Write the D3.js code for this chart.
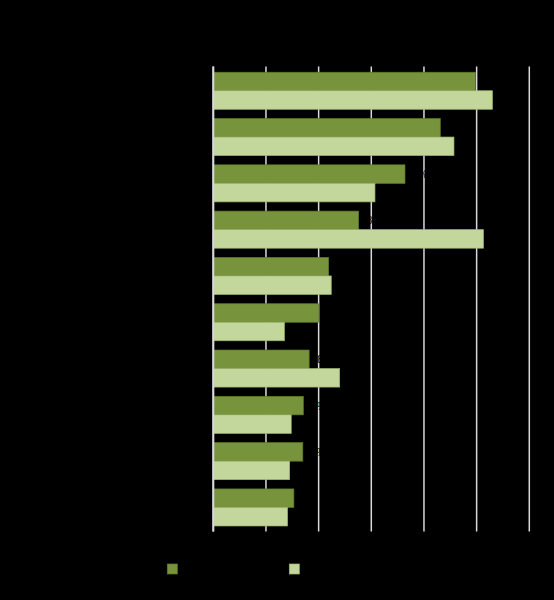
<!DOCTYPE html>
<html>
<head>
<meta charset="utf-8">
<script src="https://cdn.jsdelivr.net/npm/d3@7"></script>
<style>
  html, body { margin: 0; padding: 0; background: #000; }
  svg { display: block; font-family: "Liberation Sans", Arial, sans-serif; }
</style>
</head>
<body>
<div class="chart"></div>
<script>
// values (percent), top to bottom
const categories = ["Category 1", "Category 2", "Category 3", "Category 4", "Category 5",
  "Category 6", "Category 7", "Category 8", "Category 9", "Category 10"];
const seriesNames = ["Series 1", "Series 2"];
const series1 = [49.7, 43.0, 36.3, 27.5, 21.8, 19.9, 18.1, 17.0, 16.9, 15.2];
const series2 = [52.9, 45.6, 30.6, 51.2, 22.3, 13.4, 23.9, 14.7, 14.4, 14.0];
const xTicks = [0, 10, 20, 30, 40, 50, 60];

const colors = ["#77933c", "#c3d69b"];
const strokes = ["#5f7a2c", "#9fb56f"];

const width = 554, height = 600;
const margin = { top: 67.6, right: 25, bottom: 69.4, left: 213.3 };

const svg = d3.select('.chart')
  .append('svg')
  .attr('width', width)
  .attr('height', height);

svg.append('rect')
  .attr('width', width)
  .attr('height', height)
  .attr('fill', '#000');

const x = d3.scaleLinear()
  .domain([0, 60])
  .range([margin.left, 529.3]);

const y = d3.scaleBand()
  .domain(categories)
  .range([margin.top, height - margin.bottom])
  .paddingInner(0.2)
  .paddingOuter(0.1);

const inner = d3.scaleBand()
  .domain([0, 1])
  .range([0, y.bandwidth()]);

// vertical gridlines
svg.append('g')
  .selectAll('line')
  .data(xTicks)
  .enter().append('line')
  .attr('x1', d => x(d))
  .attr('x2', d => x(d))
  .attr('y1', margin.top - 1)
  .attr('y2', height - margin.bottom + 1)
  .attr('stroke', '#d9d9d9')
  .attr('stroke-width', 1.5);

// tick labels (black, as in the original)
svg.append('g')
  .selectAll('text')
  .data(xTicks)
  .enter().append('text')
  .attr('x', d => x(d))
  .attr('y', height - margin.bottom + 16)
  .attr('text-anchor', 'middle')
  .attr('font-size', 11)
  .attr('fill', '#000')
  .text(d => d + '%');

const rows = categories.map((c, i) => ({ cat: c, vals: [series1[i], series2[i]] }));

const groups = svg.append('g')
  .selectAll('g')
  .data(rows)
  .enter().append('g')
  .attr('transform', d => `translate(0,${y(d.cat)})`);

groups.selectAll('rect')
  .data(d => d.vals.map((v, k) => ({ v, k })))
  .enter().append('rect')
  .attr('x', x(0) + 0.5)
  .attr('y', d => inner(d.k))
  .attr('width', d => x(d.v) - x(0))
  .attr('height', inner.bandwidth())
  .attr('fill', d => colors[d.k])
  .attr('stroke', d => strokes[d.k])
  .attr('stroke-width', 0.7);

// data labels for the dark series; black text over the black background
groups.append('text')
  .attr('x', d => x(d.vals[0]) + 3)
  .attr('y', inner(0) + inner.bandwidth() / 2 + 4)
  .attr('font-size', 10)
  .attr('fill', '#000')
  .text(d => Math.round(d.vals[0]) + '%');

// category labels
groups.append('text')
  .attr('x', margin.left - 8)
  .attr('y', y.bandwidth() / 2 + 4)
  .attr('text-anchor', 'end')
  .attr('font-size', 11)
  .attr('fill', '#000')
  .text(d => d.cat);

// y axis line
svg.append('line')
  .attr('x1', x(0))
  .attr('x2', x(0))
  .attr('y1', margin.top - 1)
  .attr('y2', height - margin.bottom + 1)
  .attr('stroke', '#d9d9d9')
  .attr('stroke-width', 2);

// legend
const legendX = [167.3, 289.3];
const legend = svg.append('g')
  .selectAll('g')
  .data(seriesNames)
  .enter().append('g')
  .attr('transform', (d, i) => `translate(${legendX[i]},564)`);

legend.append('rect')
  .attr('width', 10)
  .attr('height', 10)
  .attr('fill', (d, i) => colors[i])
  .attr('stroke', (d, i) => strokes[i])
  .attr('stroke-width', 0.7);

legend.append('text')
  .attr('x', 15)
  .attr('y', 9)
  .attr('font-size', 11)
  .attr('fill', '#000')
  .text(d => d);
</script>
</body>
</html>
